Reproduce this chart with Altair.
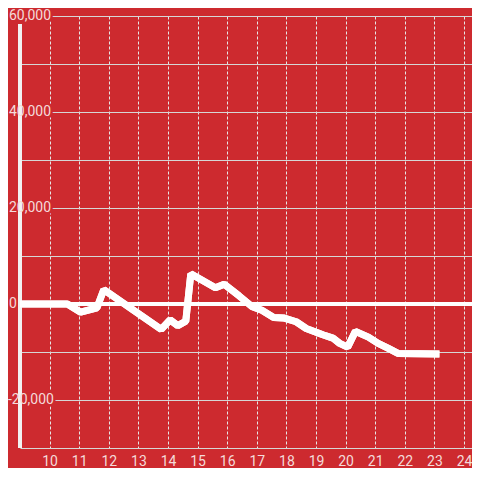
import altair as alt
import pandas as pd

# data
days = [9, 10.6, 11.05, 11.6, 11.83, 13.77, 14.07, 14.33, 14.6, 14.77, 15.6, 15.9,
        16.4, 16.83, 17.17, 17.57, 17.9, 18.33, 18.67, 19.23, 19.57, 19.8, 20.07,
        20.33, 20.77, 21.1, 21.43, 21.77, 23.17]
values = [0, 0, -1700, -800, 3000, -5300, -3300, -4500, -3600, 6300, 3400, 4100,
          1700, -500, -1300, -2800, -2900, -3700, -5100, -6400, -7100, -8200, -9000,
          -5700, -6900, -8200, -9200, -10300, -10400]

x_ticks = list(range(10, 25))
y_grid = [-30000, -20000, -10000, 0, 10000, 20000, 30000, 40000, 50000, 60000]
y_labels = [-20000, 0, 20000, 40000, 60000]

BG = "#cd2a2f"
TXT = "#f4dada"
FONT = "Roboto"

W, H = 452, 432

df = pd.DataFrame({"day": days, "value": values})
lab = pd.DataFrame({"v": y_labels, "t": [f"{v:,}" for v in y_labels], "x": [9] * len(y_labels)})

xs = alt.Scale(domain=[9, 24.27], nice=False, zero=False)
ys = alt.Scale(domain=[-30000, 60000], nice=False)

xax = alt.Axis(values=x_ticks, domain=False, ticks=False, labelFontSize=14, labelColor=TXT,
               labelFont=FONT, labelPadding=6, grid=True, gridColor="#e6e6e6",
               gridDash=[3, 2], gridWidth=1, title=None, labelOverlap=False,
               labelBound=False)
yax = alt.Axis(values=y_grid, domain=False, ticks=False, labels=False, grid=True,
               gridColor="#d6d6d6", gridWidth=1, title=None)

base_line = alt.Chart(df).mark_line(color="white", strokeWidth=7, strokeJoin="bevel",
                                    strokeCap="butt")
line_axes = base_line.encode(
    x=alt.X("day:Q", scale=xs, axis=xax),
    y=alt.Y("value:Q", scale=ys, axis=yax),
)
line = base_line.encode(
    x=alt.X("day:Q", scale=xs, axis=xax),
    y=alt.Y("value:Q", scale=ys, axis=yax),
)

zero = alt.Chart(df).mark_rule(color="white", strokeWidth=3).encode(
    y=alt.datum(0, scale=ys), x=alt.value(0), x2=alt.value(W)
)

pos = lab[lab["v"] >= 0]
neg = lab[lab["v"] < 0]

def labels(d, dx, halo):
    kw = dict(align="left", baseline="middle", fontSize=14, font=FONT, dx=dx)
    if halo:
        kw.update(color=BG, stroke=BG, strokeWidth=5)
    else:
        kw.update(color=TXT)
    return alt.Chart(d).mark_text(**kw).encode(
        x=alt.X("x:Q", scale=xs, axis=xax), y=alt.Y("v:Q", scale=ys, axis=yax), text="t:N"
    )

yline = alt.Chart(df).mark_rule(color="#f2f2f2", strokeWidth=3).encode(
    x=alt.value(0), y=alt.value(8), y2=alt.value(H)
)

chart = alt.layer(
    line_axes,
    zero,
    labels(pos, -11, True), labels(neg, -12, True),
    yline,
    line,
    labels(pos, -11, False), labels(neg, -12, False),
).properties(
    width=W, height=H, background=BG,
    autosize=alt.AutoSizeParams(type="none"),
    padding={"left": 12, "top": 8, "right": 0, "bottom": 20},
).configure_view(stroke=None)

chart.save("out.html", embed_options={"renderer": "svg", "actions": False})
